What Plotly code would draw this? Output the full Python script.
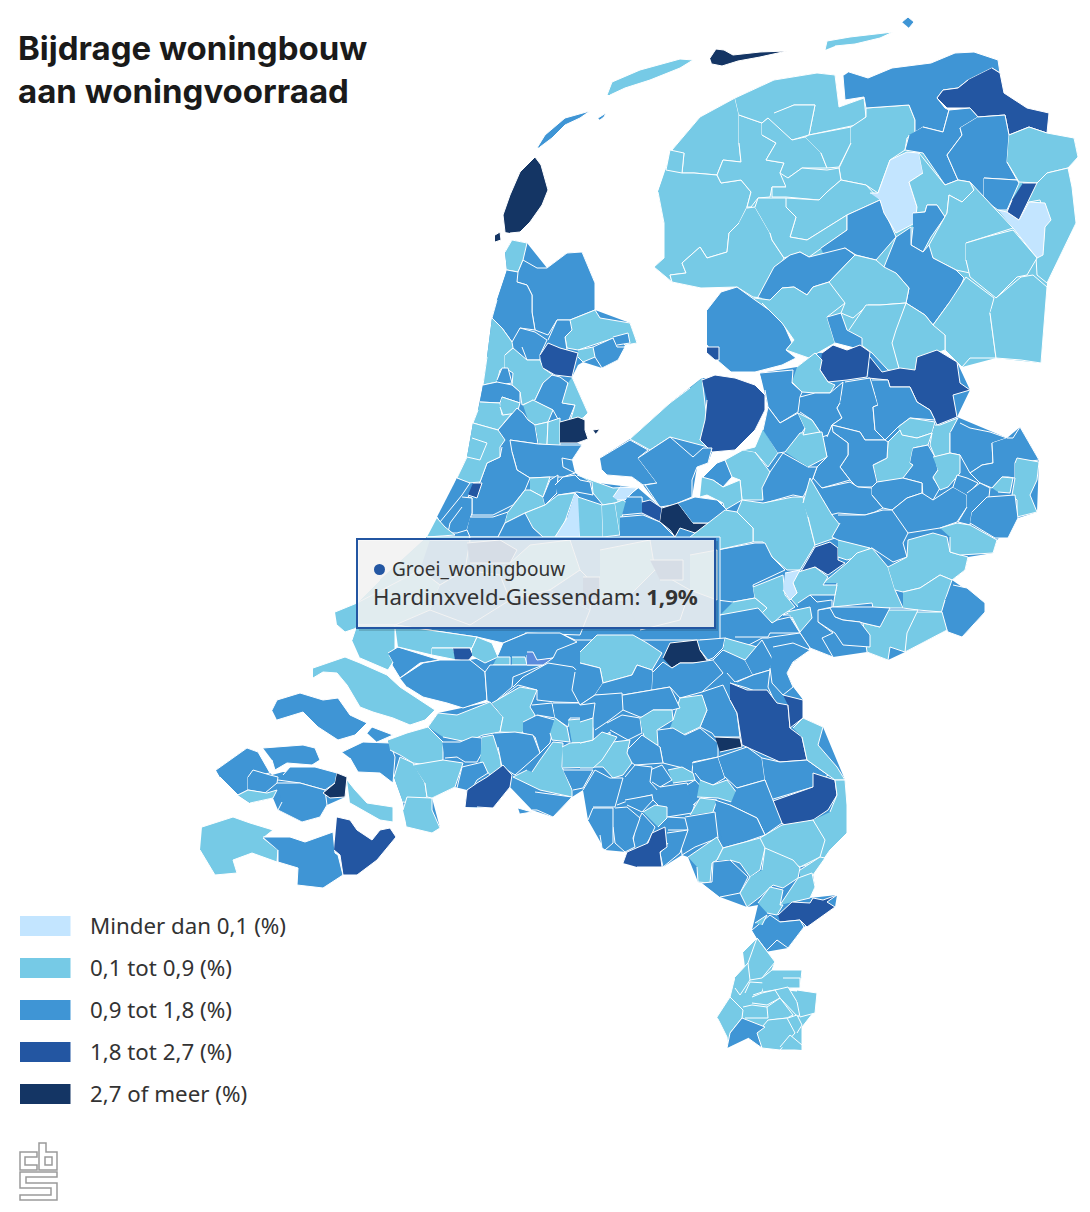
import plotly.graph_objects as go

# landdelen zonder grenzen, vullen de kieren tussen de gemeenten op
land_base = [
    (0.5, "658,192 672,150 700,117 735,98 774,80 817,73 835,75 839,107 864,98 909,105 915,132 1000,135 1074,138 1078,157 1068,168 1076,223 1047,283 1041,363 996,358 962,367 945,350 917,360 900,372 870,352 860,345 835,343 809,358 786,350 794,340 784,325 772,312 755,300 737,287 701,288 672,282 654,267 664,258 664,223"),
    (1.3, "760,373 797,367 815,353 870,352 915,370 937,350 957,362 970,390 957,417 1007,438 1020,427 1039,460 1037,512 1018,518 997,540 993,553 968,557 965,570 952,580 985,603 985,612 962,637 947,630 905,652 888,660 867,652 833,657 810,648 797,660 793,662 787,673 793,687 803,700 803,718 700,720 580,705 580,650 720,640 717,550 717,510 740,480 763,430 768,407"),
    (1.3, "505,252 512,240 527,243 547,268 567,253 582,252 595,283 595,310 630,323 637,343 625,345 618,360 602,368 583,362 578,365 572,377 588,413 583,418 585,430 588,439 577,443 582,445 572,460 575,473 590,482 638,488 660,507 673,505 695,497 717,500 727,510 737,512 717,550 427,537 440,522 457,478 467,457 473,423 478,410 483,385 487,357 492,318 497,300 507,270"),
    (1.3, "600,458 630,439 670,403 702,378 735,378 765,395 765,410 755,430 735,450 712,452 708,463 697,467 692,497 673,505 660,507 643,485 632,477 607,475"),
    (1.3, "428,727 438,713 490,702 487,700 485,672 470,660 575,640 725,640 810,650 793,662 787,673 793,687 803,700 803,718 823,727 845,780 847,833 820,857 813,875 815,887 810,898 837,895 835,907 804,927 788,948 765,952 752,930 758,905 747,907 720,897 702,883 698,882 688,857 682,855 663,867 623,863 627,852 605,850 588,820 583,790 572,797 553,817 532,810 510,787 493,808 465,807 467,790 455,787 432,798 440,828 407,827 403,802 394,777 388,740"),
    (1.3, "216,770 247,748 258,752 262,765 272,775 283,772 337,773 347,777 345,797 327,805 320,817 302,822 278,810 273,798 250,803 238,795 220,777"),
]

# gemeenten: (groei woningbouw in %, grens als "x,y x,y ..." in kaartcoordinaten)
# waarden zijn geschat uit de kaartklassen
waddeneilanden = [
    (3.1, "505,232 503,215 510,195 520,172 535,157 541,165 548,190 542,205 530,222 520,232 510,233"),
    (3.1, "495,235 500,232 501,240 495,242"),
    (1.3, "537,148 545,135 565,118 590,111 580,118 565,125 552,138 540,147"),
    (1.3, "598,118 606,113 604,117 600,120"),
    (0.5, "607,95 612,82 640,70 680,59 693,60 680,68 650,80 625,88 610,95"),
    (3.1, "710,58 716,49 724,50 733,55 760,52 787,51 760,57 738,61 722,66 712,64"),
    (0.5, "825,50 827,41 850,37 893,32 880,38 855,44 835,46"),
    (1.3, "902,22 908,17 914,22 909,28"),
]

fryslan = [
    (0.5, "672,150 700,117 735,98 739,115 739,143 741,162 723,160 717,175 694,173 682,173 684,153"),
    (0.5, "666,170 670,150 684,153 682,173"),
    (0.5, "666,170 682,173 694,173 717,175 721,183 741,180 751,192 747,207 739,223 729,233 727,252 707,258 700,247 682,263 686,273 670,275 672,282 654,267 664,258 664,223 658,192"),
    (0.5, "747,208 755,207 770,233 772,240 784,258 762,298 753,297 737,287 701,288 672,282 670,275 686,273 682,263 700,247 707,258 727,252 729,233 739,223"),
    (0.5, "739,115 762,123 762,135 776,143 766,160 784,163 780,173 786,187 772,187 770,197 758,198 751,207 747,207 751,192 741,180 721,183 717,175 723,160 741,162 739,143"),
    (0.5, "735,98 774,80 817,73 835,75 839,107 864,98 866,117 856,125 809,135 815,105 794,105 776,113 774,127 768,118 762,123 739,115"),
    (0.5, "774,113 794,105 815,105 809,135 792,140 774,127"),
    (0.5, "762,123 768,118 792,140 805,137 821,153 827,168 802,168 788,178 780,173 784,163 766,160 776,143 762,135"),
    (0.5, "805,137 809,135 851,127 851,143 839,167 827,168 821,153"),
    (0.5, "851,127 866,117 866,108 909,105 915,120 915,132 907,138 905,150 890,160 878,193 866,185 841,180 839,168 851,143"),
    (0.5, "788,178 802,168 827,170 839,168 841,180 827,192 819,200 786,197 772,197 772,187 786,187"),
    (0.5, "786,198 819,200 827,192 841,180 866,185 880,200 847,215 823,230 807,240 790,237 796,217 786,207"),
    (0.5, "755,207 758,198 786,198 786,207 796,217 790,237 807,240 823,230 847,215 847,230 821,248 809,257 800,252 784,258 772,240 770,233"),
    (1.3, "821,248 847,230 847,215 880,200 896,237 876,260 856,255 845,248 825,258"),
    (1.3, "758,297 774,267 790,255 800,252 809,257 845,248 855,255 829,282 813,287 807,295 794,287 782,288 770,300"),
]

groningen = [
    (1.3, "849,72 868,78 892,68 931,63 955,53 974,52 998,60 1000,73 992,68 968,80 958,88 943,90 937,98 945,108 949,110 943,132 923,127 915,132 915,120 909,105 866,108 864,97 845,100 843,76"),
    (2.2, "992,68 1000,73 1004,93 1027,108 1049,113 1047,133 1029,127 1009,135 1005,115 978,117 970,108 947,108 937,98 943,90 958,88 968,80"),
    (1.3, "923,127 943,132 949,110 970,108 978,117 960,128 962,135 947,155 958,180 945,185 923,153 905,150 909,135"),
    (1.3, "978,117 1005,115 1009,135 1007,162 1017,180 984,178 984,200 970,182 958,180 947,155 962,135 960,128"),
    (0.5, "1009,135 1029,127 1047,133 1074,138 1078,157 1068,168 1047,173 1037,183 1019,182 1007,162"),
    (1.3, "984,178 1017,180 1019,183 1011,200 1007,210 998,210 984,200"),
    (0.5, "1037,183 1047,173 1068,168 1072,187 1076,223 1060,257 1047,283 1037,275 1036,257 1043,250 1045,220 1040,200 1029,202"),
    (0.05, "998,210 1007,212 1019,220 1029,202 1045,203 1051,220 1045,227 1043,255 1037,258 1013,228"),
    (2.2, "1023,183 1037,183 1019,220 1007,212 1012,200"),
]

drenthe = [
    (0.05, "870,193 878,193 890,160 907,152 919,153 923,173 909,182 917,207 915,223 896,233 884,213 880,200"),
    (0.5, "919,153 945,185 958,180 970,182 974,190 962,202 949,195 947,213 945,217 937,205 927,205 925,212 913,213 915,223 917,207 909,182 923,173"),
    (1.3, "913,213 925,212 927,205 937,205 945,217 931,237 923,252 911,245 913,227"),
    (0.5, "929,245 945,217 947,213 949,195 962,202 974,190 970,182 1013,228 986,237 966,243 966,260 970,273 956,270 933,258"),
    (0.5, "966,243 986,237 1013,230 1037,258 1027,275 1017,277 996,298 970,277 966,260"),
    (1.3, "884,267 896,237 911,227 911,245 923,252 929,245 933,258 956,270 964,278 956,297 949,303 933,325 925,315 906,303 909,288 896,273"),
    (0.5, "829,282 855,255 876,260 884,267 896,273 909,288 906,303 880,305 868,305 853,318 841,313 845,303"),
    (0.5, "933,325 949,303 966,277 994,298 990,313 996,358 970,358 962,367 945,350 945,335"),
    (0.5, "996,298 1021,277 1033,275 1047,287 1041,363 1021,360 996,358 990,313"),
    (0.5, "893,333 906,303 925,315 933,325 945,335 945,350 917,360 919,370 900,372 891,343"),
    (0.5, "849,330 866,305 880,305 906,303 896,330 892,343 900,372 888,370 872,353 864,347 851,340"),
]

flevoland = [
    (1.3, "707,310 721,292 737,287 750,297 755,300 772,312 784,325 792,343 786,350 796,358 782,365 755,372 731,372 717,360 707,345"),
    (2.2, "707,347 719,347 719,360 715,360 707,353"),
    (0.5, "702,378 707,420 700,440 712,448 670,437 650,450 630,439 670,403 690,388"),
    (2.2, "702,380 715,375 735,378 755,385 765,395 765,410 755,430 735,450 712,452 700,440 705,420 707,400"),
    (1.3, "600,458 630,440 648,450 638,458 657,483 643,485 632,477 607,475 602,470"),
    (1.3, "638,458 670,437 693,457 703,448 712,448 708,463 697,467 692,480 692,497 673,505 660,507 645,485 657,483"),
]

overijssel = [
    (0.5, "754,298 770,300 782,288 794,287 807,295 813,287 829,282 845,303 827,317 835,343 809,358 786,350 794,340 782,323 762,303"),
    (1.3, "827,317 841,313 847,330 862,338 862,350 835,343"),
    (2.2, "822,353 833,345 847,350 860,345 870,352 867,377 847,380 828,382 820,370"),
    (2.2, "870,357 882,372 900,368 915,370 917,357 937,350 957,362 960,383 970,390 953,395 957,417 937,425 930,410 917,402 910,387 890,387 888,380 868,378"),
    (0.5, "797,367 815,353 822,360 820,370 828,382 835,385 830,393 815,393 802,392 792,382"),
    (1.3, "760,373 793,370 792,383 802,392 800,397 798,412 780,423 768,407 765,390"),
    (1.3, "800,397 815,393 830,393 843,382 840,403 837,408 842,418 832,425 828,435 822,437 820,432 812,420 800,412"),
    (1.3, "845,382 870,378 878,405 873,407 875,430 885,440 865,440 860,432 832,425 842,418 837,408 840,403"),
    (1.3, "872,380 888,380 890,387 910,387 917,402 930,410 935,420 910,418 898,427 885,440 875,430 873,407 878,405"),
    (0.5, "898,427 910,418 935,422 932,433 917,438 900,435"),
    (0.5, "935,425 940,425 958,418 950,433 950,453 935,457 930,445 932,433"),
    (1.3, "960,423 970,428 990,432 1007,438 992,443 993,463 982,465 970,473 960,455 950,453 950,433"),
    (1.3, "1007,438 1013,438 1020,427 1032,448 1039,460 1015,463 1015,478 1008,477 1002,477 992,488 980,483 970,473 982,465 993,463 992,443"),
    (0.5, "1015,463 1017,458 1039,462 1037,480 1030,495 1037,512 1017,517 1017,500 1012,495 1015,478"),
    (0.5, "992,488 1002,477 1013,478 1010,493 998,492"),
    (0.5, "873,465 887,458 888,442 900,430 902,435 917,438 932,433 928,445 913,448 910,463 913,465 903,480 878,482"),
    (1.3, "913,448 928,445 935,457 938,470 933,478 940,488 933,500 923,497 922,483 903,478 913,465 910,463"),
    (0.5, "933,457 950,453 960,455 960,473 948,487 940,490 933,477 938,470"),
    (1.3, "832,425 860,432 865,440 885,440 888,442 887,458 873,465 877,482 872,487 857,487 850,480 840,467 848,455 848,443 833,432"),
    (1.3, "827,437 832,425 833,432 848,443 848,455 840,467 850,480 822,488 813,478 817,467 827,457 822,437"),
    (1.3, "822,488 850,482 858,487 872,488 872,495 883,508 875,512 865,515 838,513 830,515 823,500"),
    (1.3, "872,487 877,482 903,478 922,483 922,493 907,498 892,510 883,508 872,495"),
    (1.3, "892,510 907,498 922,493 933,500 953,487 967,495 967,507 957,522 940,528 908,533 898,522"),
    (1.3, "953,487 957,475 967,478 978,483 967,495"),
    (1.3, "967,493 980,483 990,488 988,505 972,512 970,525 958,522 967,507"),
    (1.3, "972,512 987,497 1015,495 1018,518 1008,538 995,538 970,523"),
]

gelderland = [
    (0.5, "725,460 743,450 755,452 770,472 763,488 763,500 742,500 740,480 732,477"),
    (0.5, "743,450 755,447 763,428 778,453 768,467 755,452"),
    (1.3, "763,430 768,407 780,423 798,413 805,428 795,443 785,452 778,453"),
    (1.3, "702,478 717,463 725,460 732,477 723,487 713,480"),
    (0.5, "702,477 713,480 723,487 740,480 742,500 725,510 723,503 707,495 700,497"),
    (1.3, "763,500 762,488 770,472 783,453 808,467 817,467 813,478 803,497 793,495 765,503"),
    (0.5, "785,452 800,433 822,432 827,457 808,467"),
    (0.5, "798,413 812,420 820,432 803,435 805,428"),
    (0.5, "737,512 742,500 763,503 793,497 803,497 808,517 815,545 800,570 787,570 772,557 763,542 753,542 753,528"),
    (0.5, "803,503 810,478 823,500 832,515 840,525 838,537 815,545 808,517"),
    (1.3, "838,515 865,515 883,510 892,510 908,533 903,543 907,557 893,562 872,548 857,553 838,540 832,537 840,523"),
    (2.2, "800,573 815,547 830,542 838,548 838,560 845,563 828,575 815,567 802,575"),
    (0.5, "838,540 870,548 857,557 847,560 838,557"),
    (0.5, "823,583 847,563 857,553 872,548 888,567 895,590 903,608 873,608 872,603 833,607 837,583"),
    (0.5, "888,567 907,557 908,540 933,533 947,537 950,552 968,557 965,570 952,580 940,575 920,588 903,592 895,590"),
    (0.5, "940,528 957,523 970,525 997,540 993,553 960,555 950,552 950,537"),
    (0.5, "903,592 920,588 940,575 952,580 945,600 942,612 918,610 903,608"),
    (1.3, "953,585 967,588 985,603 985,612 962,637 948,632 940,617 945,600"),
    (0.5, "907,612 942,612 947,630 905,652 903,633"),
    (0.5, "888,610 918,610 907,633 905,652 890,647 888,660 867,652 863,623 880,627"),
    (1.3, "830,607 873,607 890,608 880,627 863,623 860,622 843,620 835,617"),
    (1.3, "818,610 830,608 835,617 843,620 860,622 870,635 870,647 843,645 835,633 818,622"),
    (1.3, "717,550 755,543 765,543 772,557 785,570 753,585 755,598 733,602 717,600"),
    (0.5, "753,587 783,575 785,595 795,607 782,615 773,623 758,617 767,608 755,598"),
    (0.5, "795,573 815,567 828,577 823,585 837,585 835,595 810,595 798,607 790,598 797,593 793,583"),
    (0.05, "785,573 800,570 793,583 797,593 790,600 783,590"),
    (1.3, "798,603 810,595 817,602 832,600 832,607 818,610 818,622 833,633 822,638 833,657 810,648 800,633 790,615 783,615 798,610"),
    (0.5, "787,612 810,607 812,618 800,632 792,617"),
    (0.5, "733,602 755,598 767,608 758,617 720,615"),
    (1.3, "720,615 758,608 772,623 777,620 790,617 800,633 770,633 768,637 735,637"),
    (1.3, "745,647 762,638 768,638 772,637 800,633 810,648 797,660 783,657 770,668 750,668"),
    (0.5, "725,638 745,647 757,648 743,660 727,657"),
]

noord_holland = [
    (0.5, "505,252 512,240 527,243 523,260 518,272 507,270"),
    (1.3, "518,272 523,260 537,268 547,268 567,253 582,252 595,283 595,310 570,320 557,320 548,335 535,330 532,312 532,295 527,285 517,282"),
    (1.3, "507,270 518,272 517,282 527,285 532,295 532,312 535,330 520,328 517,340 512,342 502,328 492,318 497,300"),
    (0.5, "492,318 502,328 512,342 513,348 505,355 505,368 500,370 497,382 483,385 487,357"),
    (0.5, "570,320 595,310 600,318 613,320 630,323 635,337 637,343 625,345 617,337 593,345 578,350 567,348 565,337 572,330"),
    (1.3, "548,340 557,320 570,320 572,330 565,337 567,350 550,347"),
    (1.3, "613,337 628,333 630,343 617,345"),
    (1.3, "593,347 613,338 617,347 625,347 618,360 602,368 595,357"),
    (0.5, "578,350 593,347 595,357 583,362 578,357"),
    (1.3, "512,342 520,328 535,332 547,340 540,355 540,360 527,360 522,347"),
    (0.5, "505,355 513,348 527,360 540,360 543,368 553,375 543,383 535,400 522,405 520,392 512,385 513,373 505,368"),
    (2.2, "540,355 548,343 560,348 578,353 575,365 572,377 555,375 543,368"),
    (1.3, "497,380 502,368 508,368 512,383 497,385"),
    (1.3, "483,385 497,382 512,385 520,392 520,403 502,397 500,403 480,402"),
    (1.3, "535,400 543,383 552,375 560,377 568,383 563,403 575,405 568,422 560,423 553,410 532,400"),
    (0.5, "572,377 578,390 588,413 583,418 570,422 575,405 562,403 568,383"),
    (0.5, "480,402 500,403 502,415 512,413 498,430 473,423 478,410"),
    (0.5, "502,397 520,403 517,413 503,415 500,407"),
    (0.5, "523,405 533,400 553,410 548,422 535,425 528,420"),
    (1.3, "498,430 517,408 523,413 528,420 535,425 538,444 510,440"),
    (0.5, "535,425 548,422 547,445 539,444"),
    (0.5, "547,445 548,422 560,418 560,445"),
    (3.1, "560,422 568,420 578,417 585,420 585,430 588,439 577,443 560,443"),
    (3.1, "593,430 600,429 596,434"),
    (1.3, "510,440 538,444 560,445 582,445 572,460 562,458 563,467 575,473 563,477 550,477 530,478 517,470 512,452"),
    (1.3, "510,440 512,452 517,470 530,478 525,490 513,505 493,515 472,515 472,498 468,497 480,482 487,463 500,457 502,447"),
    (0.5, "473,423 498,430 505,440 500,447 500,457 487,463 480,482 468,483 457,478 467,457"),
    (0.5, "472,438 487,443 480,460 467,457"),
    (1.3, "457,478 470,483 462,495 440,522 437,517"),
    (2.2, "473,483 482,483 477,498 468,495"),
    (1.3, "462,497 472,498 472,513 467,530 457,533 448,533 450,523 462,507"),
    (0.5, "437,518 445,527 455,535 427,537"),
    (1.3, "470,517 493,517 508,512 505,523 498,537 470,537 467,530"),
]

utrecht = [
    (0.5, "530,478 550,477 543,497 530,490"),
    (0.5, "508,512 525,490 530,490 543,497 545,505 525,513 505,523"),
    (1.3, "543,497 550,480 558,475 557,493 545,505"),
    (1.3, "555,485 563,477 575,475 580,480 590,482 593,495 577,492 558,495"),
    (0.5, "577,475 597,482 613,488 632,487 638,488 623,500 615,503 603,505 593,493 592,482"),
    (0.05, "613,497 620,487 637,488 625,500 617,500"),
    (0.5, "525,513 545,505 558,495 575,493 563,527 555,537 543,537 533,528"),
    (1.3, "498,537 505,523 525,513 533,528 543,537"),
    (0.05, "575,493 582,500 580,537 555,537 567,518"),
    (0.5, "578,497 602,505 603,537 580,537"),
    (0.5, "602,505 615,503 620,535 603,537"),
    (0.5, "615,503 623,500 627,503 622,517 620,535"),
    (1.3, "627,497 642,497 643,513 622,515"),
    (2.2, "642,502 650,500 662,508 660,522 642,513"),
    (1.3, "620,517 643,515 660,522 670,532 675,537 620,537"),
    (3.1, "662,508 678,503 693,523 713,523 707,528 695,533 680,528 675,537 670,530 660,522"),
    (1.3, "678,503 695,497 717,500 727,510 723,520 713,523 693,523"),
    (0.5, "690,537 725,510 737,512 753,528 753,542 717,550 717,537"),
]

# onder de tooltip, alleen flauw zichtbaar
zuid_holland = [
    (1.3, "427,537 720,537 720,640 575,640 560,633 527,633 503,643 477,637 395,625 357,625 357,603 380,580"),
    (0.5, "427,537 470,537 460,575 430,600 395,625 357,625 357,603 380,580"),
    (1.3, "430,540 470,540 465,570 440,585 420,570"),
    (0.5, "357,603 420,570 440,585 430,610 395,625 357,625"),
    (1.3, "440,585 465,570 500,575 510,600 470,625 430,610"),
    (2.2, "467,543 500,540 517,550 510,563 470,563"),
    (0.5, "510,563 530,545 570,540 580,570 550,590 510,600"),
    (1.3, "510,600 550,590 590,610 580,635 525,633"),
    (1.3, "550,590 580,570 592,582 590,610"),
    (2.2, "583,577 600,577 600,600 583,600"),
    (0.5, "600,550 650,540 655,570 625,600 600,600"),
    (1.3, "625,600 655,570 690,590 680,620 640,630"),
    (2.2, "650,560 683,560 683,580 660,580"),
    (0.5, "690,555 717,550 717,600 690,590"),
    (0.5, "335,612 357,603 357,628 345,632 337,625"),
    (0.5, "352,640 357,625 395,625 395,650 389,655 393,662 388,670 360,658"),
    (1.3, "388,653 398,647 430,657 440,660 420,663 400,678 392,665 393,662"),
    (0.5, "395,625 477,637 472,648 432,648 432,655 398,647"),
    (0.5, "432,648 453,648 457,660 440,657 432,655"),
    (2.2, "453,648 470,648 473,655 468,661 455,660"),
    (0.5, "472,656 485,663 498,657 492,643 477,637 472,648"),
    (1.3, "498,655 503,643 527,633 560,633 577,642 557,650 553,658 527,663 527,655"),
    (0.5, "512,657 525,657 527,665 512,665"),
    (0.5, "497,657 510,657 510,665 493,665"),
]

# de aangewezen gemeente in de tooltip
hardinxveld_value = 1.9
hardinxveld_outline = "527,652 533,652 537,660 553,658 543,665 527,665"

zeeland = [
    (0.5, "313,668 345,657 360,663 387,675 400,687 420,700 435,710 425,720 410,725 393,718 373,712 360,707 347,685 337,673 323,672 313,678"),
    (1.3, "342,752 363,742 390,743 395,757 393,783 380,773 358,772 350,758"),
    (1.3, "367,733 372,727 393,735 377,742"),
    (1.3, "272,710 277,700 300,693 323,700 338,698 350,715 367,723 355,735 338,740 318,727 303,712 277,720"),
    (1.3, "216,770 247,748 258,752 270,773 248,777 248,790 238,795 220,777"),
    (1.3, "263,748 303,745 315,748 320,760 312,765 287,763 275,770 272,760"),
    (1.3, "248,777 253,770 270,775 278,777 277,783 265,793 248,790"),
    (0.5, "238,795 248,790 267,793 277,790 273,798 250,803"),
    (1.3, "283,775 290,767 315,767 337,773 335,783 325,790 300,783 278,780"),
    (1.3, "277,783 300,783 325,790 327,805 320,817 302,822 278,810 282,802"),
    (3.1, "337,773 347,777 345,797 330,798 323,793 335,783"),
    (0.5, "347,780 355,790 367,803 393,807 393,822 380,820 350,803"),
    (0.5, "202,827 233,817 250,823 273,830 263,838 278,850 277,862 252,853 233,860 237,873 215,875 200,850"),
    (1.3, "263,837 290,837 305,842 333,832 335,853 338,855 343,875 323,888 297,885 298,868 278,862 278,850"),
    (2.2, "337,817 350,820 357,830 372,840 380,830 390,828 396,837 377,860 357,875 343,875 340,855 334,850"),
]

noord_brabant = [
    (1.3, "400,678 423,663 440,660 470,660 485,672 487,700 463,708 447,703 423,697 407,687"),
    (1.3, "487,700 485,672 490,665 527,665 543,665 513,677 512,687 497,700"),
    (1.3, "498,700 518,685 537,690 537,700 555,702 590,703 602,690 593,678 587,680 573,667 548,663 523,677 513,687"),
    (0.5, "428,727 438,713 457,715 490,702 503,717 500,732 483,735 467,742 443,737"),
    (0.5, "492,703 520,687 537,690 530,707 535,715 522,733 500,732 503,717"),
    (1.3, "523,722 537,715 555,720 550,743 540,753 535,737 523,733"),
    (1.3, "532,705 552,703 555,718 537,715"),
    (1.3, "553,703 593,703 593,718 570,718 568,727 555,718"),
    (0.5, "555,718 567,727 570,742 552,740 550,733"),
    (0.5, "568,720 593,718 593,742 572,743"),
    (0.5, "388,740 407,733 428,727 443,742 443,760 428,765 413,763 400,755 390,750"),
    (1.3, "442,742 460,742 472,737 482,738 482,753 477,762 465,762 457,757 445,758"),
    (0.5, "482,737 493,735 500,757 502,773 490,775 480,762"),
    (1.3, "495,733 515,732 533,735 540,753 515,775 502,767 498,747"),
    (0.5, "394,777 400,757 413,763 425,783 427,797 410,803 403,802"),
    (0.5, "403,810 407,797 432,798 432,810 440,828 432,833 407,827"),
    (0.5, "413,765 443,760 463,763 455,787 432,798 427,797 425,783"),
    (1.3, "457,788 462,767 483,762 488,773 477,780 473,787"),
    (2.2, "465,807 467,790 477,783 487,777 503,765 512,775 510,787 493,808 477,807"),
    (0.5, "532,772 540,760 553,742 563,743 562,767 572,790 572,797 540,790 513,777 527,770"),
    (1.3, "535,792 572,797 553,817 537,810 532,810"),
    (1.3, "518,808 532,812 520,814"),
    (0.5, "562,747 570,743 593,742 610,732 610,767 598,767 563,768"),
    (1.3, "563,770 593,770 583,788 573,790"),
    (0.5, "580,652 597,635 633,635 647,643 662,653 652,670 637,665 632,675 603,683 600,668 580,663"),
    (1.3, "580,663 600,668 603,683 595,695 580,705 572,690 575,672"),
    (1.3, "603,683 632,675 637,665 652,670 653,672 652,690 623,695 595,695"),
    (3.1, "663,658 670,643 697,640 700,650 708,662 693,663 680,663 672,668"),
    (1.3, "653,672 663,662 672,668 680,663 693,663 713,660 723,673 702,692 680,698 670,687 652,690"),
    (1.3, "700,640 725,638 723,648 713,658 708,660 700,650"),
    (0.5, "725,638 757,647 757,655 745,660 723,653"),
    (1.3, "713,660 723,650 745,660 753,675 735,682 727,673"),
    (1.3, "745,660 762,640 773,660 770,670 753,675"),
    (1.3, "773,647 793,643 810,650 793,662 787,673 793,687 783,695 772,683 770,668"),
    (1.3, "737,682 753,675 770,670 768,687 773,698 747,688 730,683"),
    (1.3, "702,692 723,685 730,700 737,713 740,737 715,737 712,733 700,727 707,710"),
    (0.5, "673,720 680,698 702,695 707,710 700,727 683,735 670,728"),
    (1.3, "623,695 652,690 670,687 680,708 672,710 653,710 650,718 640,717 623,710"),
    (1.3, "580,705 595,695 622,693 623,710 607,722 595,730"),
    (1.3, "607,723 622,715 640,718 642,733 628,740 610,730"),
    (0.5, "640,718 653,710 672,710 673,720 657,730 658,745 647,745 643,733"),
    (1.3, "658,730 673,728 685,735 700,728 718,743 718,757 693,762 692,773 683,768 663,763 660,747"),
    (1.3, "627,750 642,735 660,747 663,763 635,765 628,760"),
    (0.5, "602,757 613,742 630,740 627,753 632,763 623,775 613,778 603,767"),
    (0.5, "580,743 593,740 602,732 617,737 602,760 593,768 580,768"),
    (1.3, "580,705 595,703 593,718 580,723"),
    (0.5, "580,722 593,718 593,740 580,743"),
    (1.3, "692,763 718,757 725,778 713,785 702,782 695,773"),
    (0.5, "668,770 682,767 693,773 695,780 673,783"),
    (1.3, "650,770 662,765 672,780 660,787 652,782"),
    (1.3, "625,777 635,765 652,767 650,782 660,793 630,800 617,805"),
    (1.3, "660,787 687,783 697,797 692,813 667,817 660,807 650,797"),
    (1.3, "687,785 695,780 707,793 693,805"),
    (0.5, "700,780 713,785 727,780 737,793 735,803 718,798 697,797"),
    (0.5, "690,815 700,798 717,800 713,812"),
    (1.3, "685,817 715,812 718,838 695,847 682,855 680,835"),
    (1.3, "668,817 685,818 688,830 668,830"),
    (1.3, "667,833 688,830 680,853 663,867 660,853 668,843"),
    (1.3, "633,843 635,827 642,813 655,827 650,838 647,843"),
    (0.5, "643,812 655,805 667,807 667,818 658,827"),
    (1.3, "615,808 627,807 640,818 633,838 635,847 625,852 615,843 613,827"),
    (1.3, "588,820 593,808 613,808 613,843 605,850 602,848 600,835"),
    (1.3, "583,790 595,770 610,778 623,778 615,807 593,807"),
    (1.3, "625,800 652,795 653,800 642,812 627,805"),
    (2.2, "623,863 627,852 648,843 652,833 665,827 667,847 660,852 662,867 637,867"),
]

limburg = [
    (2.2, "730,683 747,690 767,690 777,703 788,705 790,728 802,737 807,760 780,762 753,750 742,745 737,713 730,700"),
    (2.2, "783,695 803,700 803,718 790,728 788,705"),
    (3.1, "715,737 740,738 742,747 720,752"),
    (1.3, "718,757 747,747 762,758 765,780 737,788 725,777"),
    (1.3, "762,758 780,762 807,760 828,775 813,787 770,800 765,780"),
    (2.2, "770,802 813,787 813,773 835,780 837,795 828,810 813,820 788,827 780,822"),
    (0.5, "793,728 803,718 823,727 818,745 837,767 845,780 835,780 828,775 807,760 802,737"),
    (0.5, "830,812 837,795 835,780 845,780 847,805 847,833 830,850 823,860 800,867 817,830 813,820"),
    (0.5, "760,838 782,825 813,820 825,840 820,857 800,867 763,848"),
    (1.3, "737,788 765,780 782,823 765,835 757,818 730,805"),
    (1.3, "715,800 730,805 757,818 765,835 745,842 723,848"),
    (0.5, "688,857 717,837 723,848 717,860 712,863 710,883 698,882 697,867"),
    (1.3, "702,883 712,882 713,862 730,860 748,877 740,893 720,897"),
    (0.5, "717,860 723,848 760,838 765,848 760,870 750,877 740,863 730,860"),
    (0.5, "762,870 765,848 793,860 800,868 798,878 783,888 773,885 760,897 747,907 740,893 750,877"),
    (0.5, "800,870 820,857 825,858 813,875 800,878"),
    (0.5, "780,905 798,878 812,873 815,887 810,898 793,902"),
    (0.5, "758,903 770,887 783,890 780,905 783,905 777,915 767,913"),
    (2.2, "778,915 792,902 810,903 813,898 823,900 837,895 827,902 835,907 807,927 800,920 780,922"),
    (1.3, "752,930 770,915 780,922 800,920 804,927 788,948 777,940 765,952 757,938"),
    (0.5, "755,923 767,915 762,925"),
    (0.5, "743,952 757,938 775,962 772,970 800,970 802,978 787,990 817,993 813,1013 802,1027 802,1050 780,1050 762,1048 748,1037 728,1048 727,1037 717,1017 730,997 735,977 745,967"),
    (0.5, "748,963 757,938 775,962 762,978 750,980"),
    (0.5, "735,977 748,963 750,980 740,995 735,988"),
    (0.5, "745,993 750,982 765,983 762,992 753,995"),
    (0.5, "762,978 772,970 802,970 800,988 775,990 763,992"),
    (0.5, "783,978 800,978 800,988 787,988"),
    (0.5, "775,990 788,987 802,1010 798,1017 780,998"),
    (0.5, "797,990 817,993 815,1013 800,1017 797,1002"),
    (0.5, "752,997 762,993 775,990 780,998 767,1005 752,1003"),
    (0.5, "767,1007 780,998 793,1015 787,1018 770,1020"),
    (0.5, "743,1007 752,1005 767,1007 768,1018 745,1018"),
    (0.5, "717,1017 730,997 743,1010 742,1018 730,1033"),
    (0.5, "788,1018 797,1015 802,1025 797,1033"),
    (0.5, "757,1033 768,1020 787,1018 795,1033 780,1050 762,1048"),
    (0.5, "780,1047 790,1035 802,1045 802,1050"),
    (1.3, "727,1048 730,1033 742,1018 765,1027 757,1033 762,1048 748,1038"),
]

provinces = [waddeneilanden, fryslan, groningen, drenthe, flevoland, overijssel, gelderland,
             noord_holland, utrecht, zuid_holland, zeeland, noord_brabant, limburg]

class_labels = ["Minder dan 0,1 (%)", "0,1 tot 0,9 (%)", "0,9 tot 1,8 (%)", "1,8 tot 2,7 (%)", "2,7 of meer (%)"]
class_limits = [0.1, 0.9, 1.8, 2.7]
class_colors = ["#c3e5ff", "#76cae6", "#3f95d5", "#2356a2", "#143564"]
highlight_color = "#5b8bdc"


def value_color(value):
    for limit, color in zip(class_limits, class_colors):
        if value < limit:
            return color
    return class_colors[-1]


def add_region(fig, value, outline, color, line_width=1):
    pts = [p.split(",") for p in outline.split()]
    fig.add_trace(go.Scatter(x=[float(p[0]) for p in pts], y=[float(p[1]) for p in pts],
                             mode="lines", fill="toself", fillcolor=color,
                             line=dict(color="white" if line_width else color, width=line_width),
                             hoverinfo="text", text=f"{value} %", showlegend=False))


fig = go.Figure()
for value, outline in land_base:
    add_region(fig, value, outline, value_color(value), line_width=0)
for province in provinces:
    for value, outline in province:
        add_region(fig, value, outline, value_color(value))
add_region(fig, hardinxveld_value, hardinxveld_outline, highlight_color)

# de pagina heeft 8px body-marge, daarom loopt de as 8 verder door
fig.update_layout(width=1090, height=1212, margin=dict(l=0, r=0, t=0, b=0),
                  paper_bgcolor="white", plot_bgcolor="white", showlegend=False,
                  xaxis=dict(visible=False, range=[8, 1098], fixedrange=True),
                  yaxis=dict(visible=False, range=[1220, 8], fixedrange=True))

fig.add_annotation(x=16, y=69, xref="x", yref="y", xanchor="left", yanchor="middle", showarrow=False,
                   align="left", text="<b>Bijdrage woningbouw<br>aan woningvoorraad</b>",
                   font=dict(family="Inter", size=33, color="#1a1a1a"))

# legenda
for i, (label, color) in enumerate(zip(class_labels, class_colors)):
    fig.add_shape(type="rect", x0=20, x1=70.5, y0=916 + 42 * i, y1=936 + 42 * i,
                  fillcolor=color, line_width=0)
    fig.add_annotation(x=88, y=925 + 42 * i, xanchor="left", yanchor="middle", showarrow=False,
                       text=label, font=dict(family="Noto Sans", size=22.3, color="#333333"))

# tooltip
fig.add_shape(type="rect", x0=359, x1=718, y0=541, y1=631, fillcolor="rgba(0,0,0,0.15)", line_width=0)
fig.add_shape(type="rect", x0=357, x1=715, y0=539, y1=628, fillcolor="rgba(247,247,247,0.85)",
              line=dict(color="#2356a2", width=2))
fig.add_shape(type="circle", x0=374, x1=385, y0=564, y1=575, fillcolor="#2356a2", line_width=0)
fig.add_annotation(x=390, y=569, xanchor="left", yanchor="middle", showarrow=False,
                   text="Groei_woningbouw", font=dict(family="Noto Sans", size=19, color="#333333"))
fig.add_annotation(x=371, y=596, xanchor="left", yanchor="middle", showarrow=False,
                   text="Hardinxveld-Giessendam: <b>1,9%</b>",
                   font=dict(family="Noto Sans", size=22.2, color="#333333"))

# cbs-logo
logo_paths = ["M37,1152 H20 V1170 H37 V1165 H25 V1157 H37 Z",
              "M39,1143 H46 V1152 H57 V1170 H39 Z",
              "M45,1157 H52 V1165 H45 Z",
              "M20,1172 H57 V1177 H26 V1183 H57 V1200 H20 V1195 H51 V1188 H20 Z"]
for path in logo_paths:
    fig.add_shape(type="path", path=path, line=dict(color="#9a9a9a", width=1.5))

fig.write_html("out.html")
